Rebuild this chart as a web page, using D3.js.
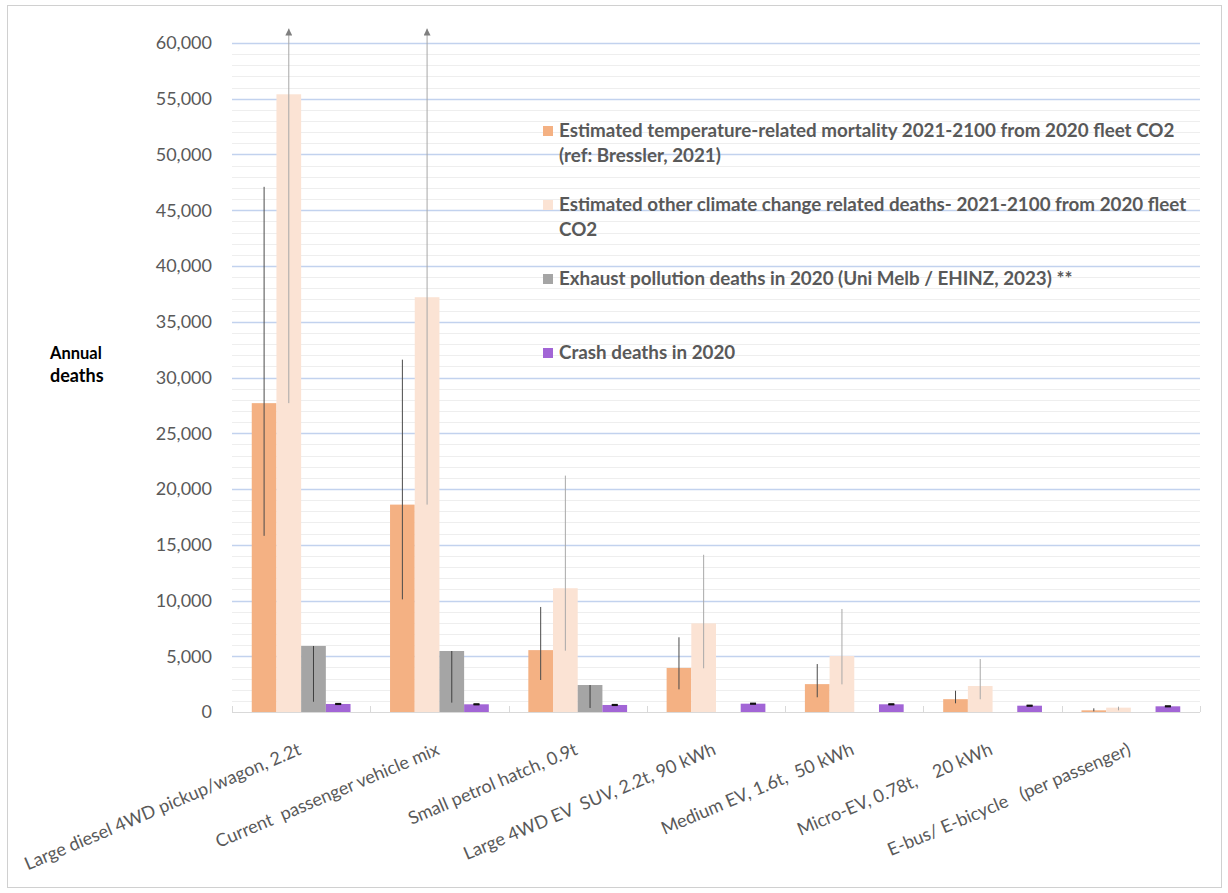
<!DOCTYPE html>
<html>
<head>
<meta charset="utf-8">
<script src="https://cdn.jsdelivr.net/npm/d3@7"></script>
<style>
  html, body { margin: 0; padding: 0; background: #fff; }
  svg { display: block; }
  text { font-family: Lato, "Open Sans", sans-serif; }
</style>
</head>
<body>
<svg id="chart" width="1228" height="893"></svg>
<script>
// Vehicle categories along the x axis
const categories = [
  "Large diesel 4WD pickup/wagon, 2.2t",
  "Current  passenger vehicle mix",
  "Small petrol hatch, 0.9t",
  "Large 4WD EV  SUV, 2.2t, 90 kWh",
  "Medium EV, 1.6t,  50 kWh",
  "Micro-EV, 0.78t,    20 kWh",
  "E-bus/ E-bicycle   (per passenger)"
];

// Series names (legend)
const seriesNames = [
  ["Estimated temperature-related mortality 2021-2100 from 2020 fleet CO2", "(ref: Bressler, 2021)"],
  ["Estimated other climate change related deaths- 2021-2100 from 2020 fleet", "CO2"],
  ["Exhaust pollution deaths in 2020 (Uni Melb / EHINZ, 2023) **"],
  ["Crash deaths in 2020"]
];

// Annual deaths per series
const temperatureDeaths = [27700, 18600, 5550, 3950, 2500, 1150, 150];
const otherClimateDeaths = [55400, 37200, 11100, 7950, 5020, 2330, 390];
const exhaustDeaths = [5920, 5470, 2420, 0, 0, 0, 0];
const crashDeaths = [720, 690, 630, 745, 690, 565, 510];

// Uncertainty ranges (low / high) per series
const temperatureLow = [15800, 10100, 2870, 2030, 1320, 780, 60];
const temperatureHigh = [47100, 31600, 9420, 6700, 4300, 1910, 330];
const otherClimateLow = [27700, 18600, 5500, 3920, 2480, 1140, 150];
const otherClimateHigh = [61300, 61300, 21200, 14100, 9240, 4750, 480];
const exhaustLow = [920, 840, 360, 0, 0, 0, 0];
const exhaustHigh = [5920, 5470, 2420, 0, 0, 0, 0];
const crashLow = [690, 660, 600, 715, 660, 535, 480];
const crashHigh = [750, 720, 660, 775, 720, 595, 540];

// Y axis ticks
const yTicks = [0, 5000, 10000, 15000, 20000, 25000, 30000, 35000, 40000, 45000, 50000, 55000, 60000];
const yMinorStep = 1000;

const seriesColors = ["#f4b183", "#fbe3d4", "#a5a5a5", "#a265d6"];
const errorColors = ["#4a4a4a", "#a8a8a8", "#3f3f3f", "#111111"];

const series = [
  { values: temperatureDeaths, low: temperatureLow, high: temperatureHigh, cap: false },
  { values: otherClimateDeaths, low: otherClimateLow, high: otherClimateHigh, cap: false },
  { values: exhaustDeaths, low: exhaustLow, high: exhaustHigh, cap: false },
  { values: crashDeaths, low: crashLow, high: crashHigh, cap: true }
];

const svg = d3.select("#chart");
const plot = { left: 232, right: 1200, top: 43, bottom: 712 };

// Outer chart frame
svg.append("rect")
  .attr("x", 7.5).attr("y", 5.5)
  .attr("width", 1214).attr("height", 882)
  .attr("fill", "#fff").attr("stroke", "#d0d0d0");

const y = d3.scaleLinear().domain([0, 60000]).range([plot.bottom, plot.top]);
const x = d3.scaleBand().domain(d3.range(categories.length)).range([plot.left, plot.right]).padding(0);
const catW = x.bandwidth();
const gapRatio = 1.6; // gap between groups relative to one bar
const barW = catW / (series.length + gapRatio);
const xs = d3.scaleBand().domain(d3.range(series.length))
  .range([barW * gapRatio / 2, catW - barW * gapRatio / 2]).padding(0);

// Minor gridlines
const minorTicks = d3.range(0, 60001, yMinorStep).filter(v => v % 5000 !== 0);
svg.append("g").selectAll("line").data(minorTicks).join("line")
  .attr("x1", plot.left).attr("x2", plot.right)
  .attr("y1", d => Math.round(y(d)) + 0.5).attr("y2", d => Math.round(y(d)) + 0.5)
  .attr("stroke", "#eeeeee").attr("stroke-width", 1);

// Major gridlines
svg.append("g").selectAll("line").data(yTicks.filter(d => d > 0)).join("line")
  .attr("x1", plot.left).attr("x2", plot.right)
  .attr("y1", d => Math.round(y(d)) + 0.5).attr("y2", d => Math.round(y(d)) + 0.5)
  .attr("stroke", "#c2d2ee").attr("stroke-width", 1.3);

// Y axis labels
const yAxis = d3.axisLeft(y).tickValues(yTicks).tickSize(0).tickPadding(20)
  .tickFormat(d3.format(","));
const yG = svg.append("g").attr("transform", `translate(${plot.left},0)`).call(yAxis);
yG.select(".domain").remove();
yG.selectAll("text")
  .attr("font-family", "Lato, sans-serif")
  .attr("font-size", 18)
  .attr("fill", "#595959");

// Axis title
const title = svg.append("text")
  .attr("x", 50).attr("y", 359)
  .attr("font-weight", 700).attr("fill", "#000");
title.append("tspan").attr("x", 50).attr("y", 359).attr("font-size", 16.5).text("Annual");
title.append("tspan").attr("x", 50).attr("y", 382).attr("font-size", 18).text("deaths");

// Arrow marker for ranges running past the top of the axis
svg.append("defs").append("marker")
  .attr("id", "arrowUp")
  .attr("markerUnits", "userSpaceOnUse")
  .attr("viewBox", "0 0 10 10")
  .attr("refX", 5).attr("refY", 0)
  .attr("markerWidth", 7).attr("markerHeight", 7)
  .attr("orient", "0")
  .append("path").attr("d", "M0,10 L5,0 L10,10 Z").attr("fill", "#7f7f7f");

// Bars
const groups = svg.append("g").selectAll("g").data(categories).join("g")
  .attr("transform", (d, i) => `translate(${x(i)},0)`);

series.forEach((s, si) => {
  groups.append("rect")
    .attr("x", xs(si))
    .attr("width", xs.bandwidth())
    .attr("y", (d, i) => y(s.values[i]))
    .attr("height", (d, i) => y(0) - y(s.values[i]))
    .attr("fill", seriesColors[si]);
});

// Error bars
series.forEach((s, si) => {
  const cx = xs(si) + xs.bandwidth() / 2;
  groups.filter((d, i) => s.high[i] > s.low[i])
    .append("line")
    .attr("x1", cx).attr("x2", cx)
    .attr("y1", d => y(s.low[categories.indexOf(d)]))
    .attr("y2", d => y(s.high[categories.indexOf(d)]))
    .attr("stroke", errorColors[si])
    .attr("stroke-width", s.cap ? 1.5 : 1)
    .attr("marker-end", d => s.high[categories.indexOf(d)] > y.domain()[1] ? "url(#arrowUp)" : null);
  if (s.cap) {
    [s.low, s.high].forEach(arr => {
      groups.append("line")
        .attr("x1", cx - 3).attr("x2", cx + 3)
        .attr("y1", (d, i) => y(arr[i])).attr("y2", (d, i) => y(arr[i]))
        .attr("stroke", errorColors[si]).attr("stroke-width", 1.5);
    });
  }
});

// Category axis line and ticks
svg.append("line")
  .attr("x1", plot.left).attr("x2", plot.right)
  .attr("y1", plot.bottom + 0.5).attr("y2", plot.bottom + 0.5)
  .attr("stroke", "#d9d9d9").attr("stroke-width", 1.2);
const boundaries = d3.range(categories.length + 1).map(i => plot.left + i * catW);
svg.append("g").selectAll("line").data(boundaries).join("line")
  .attr("x1", d => Math.round(d) + 0.5).attr("x2", d => Math.round(d) + 0.5)
  .attr("y1", plot.bottom - 6).attr("y2", plot.bottom)
  .attr("stroke", "#d9d9d9");

// Category labels, rotated
svg.append("g").selectAll("text").data(categories).join("text")
  .attr("transform", (d, i) => `translate(${x(i) + catW / 2 - 4},${plot.bottom + 30}) rotate(-23)`)
  .attr("text-anchor", "end")
  .attr("dy", "0.72em")
  .attr("font-size", 18)
  .attr("fill", "#595959")
  .style("white-space", "pre")
  .text(d => d);

// Legend
const legendRows = [137, 211, 285, 359];
const legend = svg.append("g");
seriesNames.forEach((lines, si) => {
  const base = legendRows[si];
  legend.append("rect")
    .attr("x", 543).attr("y", base - 11)
    .attr("width", 10).attr("height", 10)
    .attr("fill", seriesColors[si]);
  const t = legend.append("text")
    .attr("font-size", 18.8).attr("font-weight", 700).attr("fill", "#595959");
  lines.forEach((ln, li) => {
    t.append("tspan").attr("x", 559).attr("y", base + li * 25).text(ln);
  });
});
</script>
</body>
</html>
